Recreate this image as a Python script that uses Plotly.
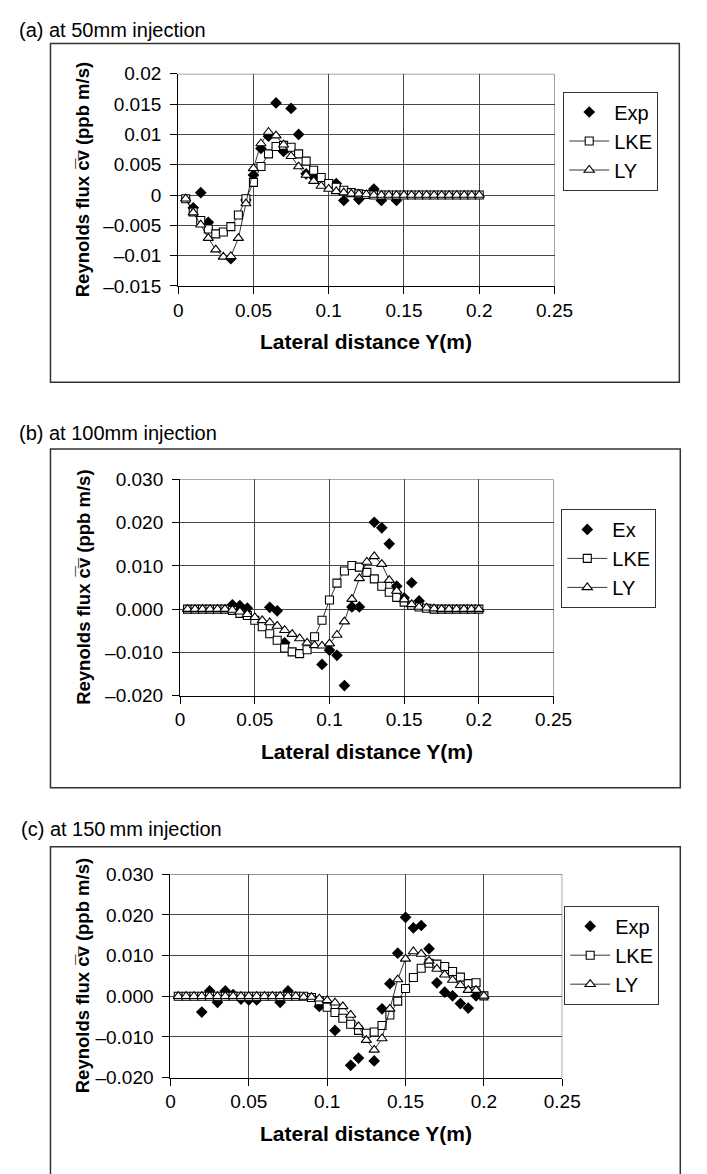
import plotly.graph_objects as go

# ---------------- data ----------------
Y_MODEL = [0.005, 0.01, 0.015, 0.02, 0.025, 0.03, 0.035, 0.04, 0.045, 0.05,
           0.055, 0.06, 0.065, 0.07, 0.075, 0.08, 0.085, 0.09, 0.095, 0.1,
           0.105, 0.11, 0.115, 0.12, 0.125, 0.13, 0.135, 0.14, 0.145, 0.15,
           0.155, 0.16, 0.165, 0.17, 0.175, 0.18, 0.185, 0.19, 0.195, 0.2]

# (a) 50 mm
A_LKE = [-0.0006, -0.0028, -0.0042, -0.0056, -0.0064, -0.0061, -0.0052, -0.0033, -0.0006, 0.0021,
         0.0047, 0.0068, 0.0080, 0.0082, 0.0079, 0.0068, 0.0056, 0.0041, 0.0029, 0.0019,
         0.0013, 0.0008, 0.0004, 0.0002, 0.0001, 0, 0, 0, 0, 0,
         0, 0, 0, 0, 0, 0, 0, 0, 0, 0]
A_LY = [-0.0006, -0.0029, -0.0049, -0.0071, -0.0090, -0.0102, -0.0101, -0.0071, -0.0014, 0.0044,
        0.0085, 0.0104, 0.0098, 0.0083, 0.0064, 0.0047, 0.0033, 0.0023, 0.0015, 0.0010,
        0.0006, 0.0004, 0.0002, 0.0002, 0.0001, 0, 0, 0, 0, 0,
        0, 0, 0, 0, 0, 0, 0, 0, 0, 0]
A_EXP_X = [0.01, 0.015, 0.02, 0.035, 0.045, 0.05, 0.055, 0.06, 0.065, 0.07,
           0.075, 0.08, 0.085, 0.09, 0.105, 0.11, 0.12, 0.13, 0.135, 0.145]
A_EXP_Y = [-0.0021, 0.0004, -0.0045, -0.0105, -0.0008, 0.0033, 0.0077, 0.0097, 0.0152, 0.0072,
           0.0143, 0.0100, 0.0035, 0.0030, 0.0019, -0.0009, -0.0007, 0.0010, -0.0009, -0.0009]

# (b) 100 mm
B_LKE = [0, 0, 0, 0, 0, 0, -0.0003, -0.0010, -0.0015, -0.0026,
         -0.0041, -0.0057, -0.0072, -0.0090, -0.0099, -0.0103, -0.0094, -0.0064, -0.0026, 0.0021,
         0.0060, 0.0088, 0.0101, 0.0097, 0.0085, 0.0070, 0.0053, 0.0039, 0.0027, 0.0016,
         0.0009, 0.0005, 0.0002, 0, 0, 0, 0, 0, 0, 0]
B_LY = [0, 0, 0, 0, 0, 0, -0.0002, -0.0006, -0.0012, -0.0019,
        -0.0026, -0.0031, -0.0039, -0.0049, -0.0058, -0.0068, -0.0078, -0.0084, -0.0085, -0.0080,
        -0.0060, -0.0029, 0.0023, 0.0071, 0.0109, 0.0122, 0.0104, 0.0067, 0.0042, 0.0022,
        0.0011, 0.0005, 0.0003, 0.0001, 0, 0, 0, 0, 0, 0]
B_EXP_X = [0.035, 0.04, 0.045, 0.06, 0.065, 0.07, 0.095, 0.1, 0.105, 0.11,
           0.115, 0.12, 0.13, 0.135, 0.14, 0.145, 0.15, 0.155, 0.16]
B_EXP_Y = [0.0010, 0.0008, 0.0002, 0.0004, -0.0004, -0.0078, -0.0128, -0.0095, -0.0107, -0.0177,
           0.0005, 0.0005, 0.0201, 0.0188, 0.0151, 0.0053, 0.0026, 0.0061, 0.0019]

# (c) 150 mm
C_LKE = [0, 0, 0, 0, 0, 0, 0, 0, 0, 0,
         0, 0, 0, 0, 0, 0, 0, -0.0003, -0.0011, -0.0027,
         -0.0040, -0.0054, -0.0069, -0.0084, -0.0091, -0.0088, -0.0072, -0.0046, -0.0012, 0.0019,
         0.0046, 0.0069, 0.0081, 0.0079, 0.0073, 0.0061, 0.0047, 0.0031, 0.0033, 0.0001]
C_LY = [0, 0, 0, 0, 0, 0, 0, 0, 0, 0,
        0, 0, 0, 0, 0, 0, -0.0002, -0.0002, -0.0006, -0.0010,
        -0.0016, -0.0025, -0.0046, -0.0074, -0.0108, -0.0132, -0.0104, -0.0031, 0.0041, 0.0092,
        0.0110, 0.0104, 0.0087, 0.0067, 0.0053, 0.0040, 0.0027, 0.0015, 0.0015, 0.0001]
C_EXP_X = [0.02, 0.025, 0.03, 0.035, 0.04, 0.045, 0.05, 0.055, 0.07, 0.075,
           0.095, 0.105, 0.115, 0.12, 0.13, 0.135, 0.14, 0.145, 0.15, 0.155,
           0.16, 0.165, 0.17, 0.175, 0.18, 0.185, 0.19, 0.195]
C_EXP_Y = [-0.0039, 0.0013, -0.0015, 0.0013, 0.0004, -0.0007, -0.0009, -0.0009, -0.0015, 0.0013,
           -0.0025, -0.0084, -0.0170, -0.0152, -0.0159, -0.0031, 0.0031, 0.0106, 0.0194, 0.0168,
           0.0174, 0.0117, 0.0033, 0.0010, 0.0001, -0.0018, -0.0029, 0.0001]

X_TICKS = [0, 0.05, 0.1, 0.15, 0.2, 0.25]
X_TICKTEXT = ["0", "0.05", "0.1", "0.15", "0.2", "0.25"]
A_YTICKS = [-0.015, -0.01, -0.005, 0, 0.005, 0.01, 0.015, 0.02]
A_YTICKTEXT = ["\u20130.015", "\u20130.01", "\u20130.005", "0", "0.005", "0.01", "0.015", "0.02"]
BC_YTICKS = [-0.02, -0.01, 0, 0.01, 0.02, 0.03]
BC_YTICKTEXT = ["\u20130.020", "\u20130.010", "0.000", "0.010", "0.020", "0.030"]

TITLES = ["(a) at 50mm injection", "(b) at 100mm injection", "(c) at 150\u2009mm injection"]
EXP_NAMES = ["Exp", "Ex", "Exp"]
X_TITLE = "Lateral distance Y(m)"
Y_TITLE = "Reynolds flux c\u0305v\u0305 (ppb m/s)"

# ---------------- layout geometry (pixels) ----------------
W, H = 707, 1174
def fx(p):
    return p / W
def fy(p):
    return 1 - p / H

panels = [
    dict(plot=(179, 568, 65, 281), frame=(47, 697, 34, 379), title=(12, 20),
         legend=(577, 83), yr=[-0.015, 0.02], yt=A_YTICKS, ytt=A_YTICKTEXT,
         lke=A_LKE, ly=A_LY, ex=A_EXP_X, ey=A_EXP_Y),
    dict(plot=(181, 567, 478, 698), frame=(47, 698, 447, 792), title=(12, 431),
         legend=(575, 508), yr=[-0.02, 0.03], yt=BC_YTICKS, ytt=BC_YTICKTEXT,
         lke=B_LKE, ly=B_LY, ex=B_EXP_X, ey=B_EXP_Y),
    dict(plot=(171, 576, 880, 1087), frame=(47, 698, 852, 1190), title=(14, 834),
         legend=(578, 912), yr=[-0.02, 0.03], yt=BC_YTICKS, ytt=BC_YTICKTEXT,
         lke=C_LKE, ly=C_LY, ex=C_EXP_X, ey=C_EXP_Y),
]

FONT = "Liberation Sans, Arial, sans-serif"
GRID = "#464646"

fig = go.Figure()
layout = dict(width=W, height=H, margin=dict(l=0, r=0, t=0, b=0),
              paper_bgcolor="white", plot_bgcolor="white",
              font=dict(family=FONT, size=19, color="black"),
              showlegend=True)
annotations = []
shapes = []

for i, p in enumerate(panels):
    n = "" if i == 0 else str(i + 1)
    xa, ya = "x" + n, "y" + n
    lg = "legend" + n
    x0, x1, y0, y1 = p["plot"]
    layout["xaxis" + n] = dict(domain=[fx(x0), fx(x1)], range=[0, 0.25], anchor=ya,
                               tickvals=X_TICKS, ticktext=X_TICKTEXT,
                               showgrid=True, gridcolor=GRID, gridwidth=1,
                               showline=True, linecolor="black", linewidth=1.2,
                               ticks="outside", ticklen=7, tickcolor="black",
                               zeroline=False, tickfont=dict(family=FONT, size=19))
    layout["yaxis" + n] = dict(domain=[fy(y1), fy(y0)], range=p["yr"], anchor=xa,
                               tickvals=p["yt"], ticktext=p["ytt"],
                               showgrid=True, gridcolor=GRID, gridwidth=1,
                               showline=True, linecolor="black", linewidth=1.2,
                               ticks="outside", ticklen=7, tickcolor="black",
                               ticklabelstandoff=5,
                               zeroline=False, tickfont=dict(family=FONT, size=19))
    lx, ly_ = p["legend"]
    layout[lg] = dict(x=fx(lx), y=fy(ly_), xanchor="left", yanchor="top",
                      bordercolor="#333333", borderwidth=1, bgcolor="white",
                      font=dict(family=FONT, size=20), traceorder="normal",
                      itemwidth=40)

    fig.add_trace(go.Scatter(x=p["ex"], y=p["ey"], mode="markers", name=EXP_NAMES[i],
                             xaxis=xa, yaxis=ya, legend=lg,
                             marker=dict(symbol="diamond", size=9, color="black")))
    fig.add_trace(go.Scatter(x=Y_MODEL, y=p["lke"], mode="lines+markers", name="LKE",
                             xaxis=xa, yaxis=ya, legend=lg,
                             line=dict(color="black", width=0.8),
                             marker=dict(symbol="square", size=8, color="white",
                                         line=dict(color="black", width=1.1))))
    fig.add_trace(go.Scatter(x=Y_MODEL, y=p["ly"], mode="lines+markers", name="LY",
                             xaxis=xa, yaxis=ya, legend=lg,
                             line=dict(color="black", width=0.8),
                             marker=dict(symbol="triangle-up", size=9, color="white",
                                         line=dict(color="black", width=1.1))))

    # grey plot-area edges at the far ends of the axis ranges
    shapes.append(dict(type="line", xref=xa, yref=ya, x0=0.25, x1=0.25,
                       y0=p["yr"][0], y1=p["yr"][1], line=dict(color=GRID, width=1),
                       layer="below"))
    shapes.append(dict(type="line", xref=xa, yref=ya, x0=0, x1=0.25,
                       y0=p["yr"][1], y1=p["yr"][1], line=dict(color=GRID, width=1),
                       layer="below"))

    fl, fr, ft, fb = p["frame"]
    shapes.append(dict(type="rect", xref="paper", yref="paper",
                       x0=fx(fl), x1=fx(fr), y0=fy(fb), y1=fy(ft),
                       line=dict(color="#333333", width=1.5), layer="below"))
    tx, ty = p["title"]
    annotations.append(dict(text=TITLES[i], xref="paper", yref="paper",
                            x=fx(tx), y=fy(ty), xanchor="left", yanchor="middle",
                            showarrow=False, font=dict(family=FONT, size=20)))
    annotations.append(dict(text="<b>" + X_TITLE + "</b>", xref="paper", yref="paper",
                            x=fx((x0 + x1) / 2), y=fy(y1 + 57), xanchor="center",
                            yanchor="middle", showarrow=False,
                            font=dict(family=FONT, size=21)))
    annotations.append(dict(text="<b>" + Y_TITLE + "</b>", xref="paper", yref="paper",
                            x=fx(81), y=fy((y0 + y1) / 2), xanchor="center",
                            yanchor="middle", showarrow=False, textangle=-90,
                            font=dict(family=FONT, size=18.5)))

layout["annotations"] = annotations
layout["shapes"] = shapes
fig.update_layout(**layout)
fig.write_html("out.html")
